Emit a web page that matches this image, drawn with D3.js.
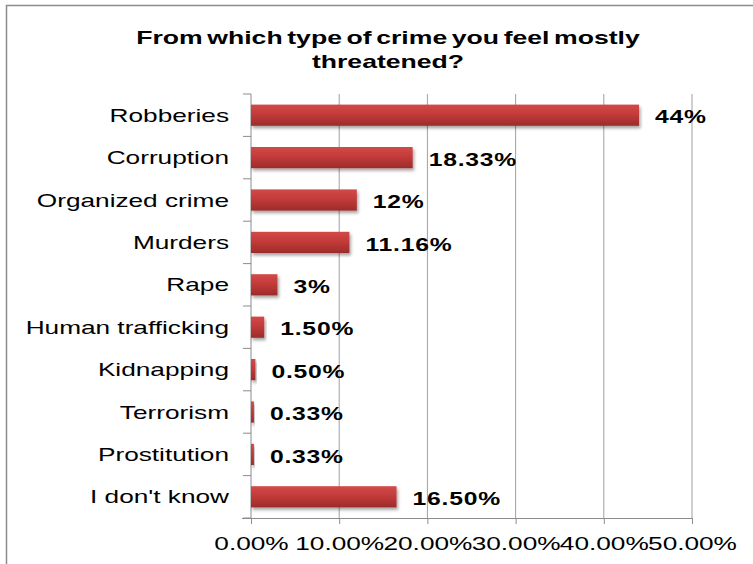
<!DOCTYPE html>
<html>
<head>
<meta charset="utf-8">
<script src="https://cdn.jsdelivr.net/npm/d3@7"></script>
<style>
  html, body { margin: 0; padding: 0; background: #fff; }
  svg { display: block; font-family: "Liberation Sans", Arial, sans-serif; }
</style>
</head>
<body>
<svg id="chart" width="753" height="564"></svg>
<script>
// Survey answers, top to bottom
const categories = ["Robberies", "Corruption", "Organized crime", "Murders", "Rape",
  "Human trafficking", "Kidnapping", "Terrorism", "Prostitution", "I don't know"];
const values = [44, 18.33, 12, 11.16, 3, 1.5, 0.5, 0.33, 0.33, 16.5];
const valueLabels = ["44%", "18.33%", "12%", "11.16%", "3%", "1.50%", "0.50%", "0.33%", "0.33%", "16.50%"];
const xTicks = [0, 10, 20, 30, 40, 50];
const titleLines = ["From which type of crime you feel mostly", "threatened?"];

const svg = d3.select("#chart");
const W = 753, H = 564;

// The whole chart uses horizontally widened lettering
const STRETCH = 1.38;
function placeText(sel, fx, fy, sx) {
  sel.attr("x", 0).attr("y", 0)
    .attr("transform", (d, i) => `translate(${fx(d, i)},${fy(d, i)}) scale(${sx},1)`);
}

// Outer chart frame
svg.append("rect").attr("x", 6.5).attr("y", 5.5).attr("width", W + 10).attr("height", H + 10)
  .attr("fill", "#fff").attr("stroke", "#8c8c8c").attr("stroke-width", 1.5);

const plot = { left: 251, right: 692, top: 94, bottom: 518 };

const x = d3.scaleLinear().domain([0, 50]).range([plot.left, plot.right]);
const y = d3.scaleBand().domain(categories).range([plot.top, plot.bottom]).paddingInner(0.5).paddingOuter(0.25);

// Bar gradient and soft drop shadow
const defs = svg.append("defs");
const grad = defs.append("linearGradient").attr("id", "barGrad").attr("x1", 0).attr("y1", 0).attr("x2", 0).attr("y2", 1);
grad.append("stop").attr("offset", "0%").attr("stop-color", "#d24a48");
grad.append("stop").attr("offset", "45%").attr("stop-color", "#c33b3a");
grad.append("stop").attr("offset", "100%").attr("stop-color", "#9c2b2a");
const shadow = defs.append("filter").attr("id", "shadow").attr("x", "-10%").attr("y", "-30%").attr("width", "130%").attr("height", "190%");
shadow.append("feDropShadow").attr("dx", 1.5).attr("dy", 2.5).attr("stdDeviation", 1.5)
  .attr("flood-color", "#000").attr("flood-opacity", 0.35);

// Title
svg.append("g").selectAll("text").data(titleLines).join("text")
  .attr("text-anchor", "middle").attr("font-size", 19).attr("font-weight", "bold")
  .attr("word-spacing", -2)
  .attr("fill", "#000").text(d => d)
  .call(placeText, () => 388, (d, i) => 44 + i * 24, 1.4);

// Vertical gridlines
svg.append("g").selectAll("line").data(xTicks.slice(1)).join("line")
  .attr("x1", d => x(d)).attr("x2", d => x(d))
  .attr("y1", plot.top).attr("y2", plot.bottom)
  .attr("stroke", "#a0a0a0").attr("stroke-width", 1);

// Category axis with tick marks between bands
const yAxisG = svg.append("g");
yAxisG.append("line").attr("x1", plot.left).attr("x2", plot.left)
  .attr("y1", plot.top).attr("y2", plot.bottom).attr("stroke", "#8c8c8c");
yAxisG.selectAll("line.tick").data(d3.range(categories.length + 1)).join("line").attr("class", "tick")
  .attr("x1", plot.left - 8).attr("x2", plot.left)
  .attr("y1", i => plot.top + i * (plot.bottom - plot.top) / categories.length)
  .attr("y2", i => plot.top + i * (plot.bottom - plot.top) / categories.length)
  .attr("stroke", "#8c8c8c");
yAxisG.selectAll("text").data(categories).join("text")
  .attr("dy", "0.35em").attr("text-anchor", "end")
  .attr("font-size", 19).attr("fill", "#000").text(d => d)
  .call(placeText, () => 229, d => y(d) + y.bandwidth() / 2, STRETCH);

// Value axis along the bottom
const xAxis = d3.axisBottom(x).tickValues(xTicks).tickSize(6).tickSizeOuter(0)
  .tickFormat(d => d3.format(".2%")(d / 100));
const xAxisG = svg.append("g").attr("transform", `translate(0,${plot.bottom})`).call(xAxis);
xAxisG.select(".domain").attr("d", `M${plot.left - 9},0.5H${plot.right}`).attr("stroke", "#8c8c8c");
xAxisG.selectAll(".tick line").attr("stroke", "#8c8c8c");
xAxisG.selectAll(".tick text")
  .attr("dy", "0.35em")
  .attr("font-size", 19).attr("fill", "#000")
  .attr("font-family", "\"Liberation Sans\", Arial, sans-serif")
  .call(placeText, () => 0, () => 25, STRETCH);

// Bars
svg.append("g").selectAll("rect").data(categories).join("rect")
  .attr("x", x(0)).attr("y", d => y(d))
  .attr("width", (d, i) => Math.max(x(values[i]) - x(0), 1))
  .attr("height", y.bandwidth())
  .attr("fill", "url(#barGrad)").attr("filter", "url(#shadow)");

// Value labels
svg.append("g").selectAll("text").data(categories).join("text")
  .attr("dy", "0.35em")
  .attr("font-size", 19).attr("font-weight", "bold").attr("letter-spacing", 0.6)
  .attr("fill", "#000").text((d, i) => valueLabels[i])
  .call(placeText, (d, i) => x(values[i]) + 16, d => y(d) + y.bandwidth() / 2 + 1.5, 1.3);
</script>
</body>
</html>
